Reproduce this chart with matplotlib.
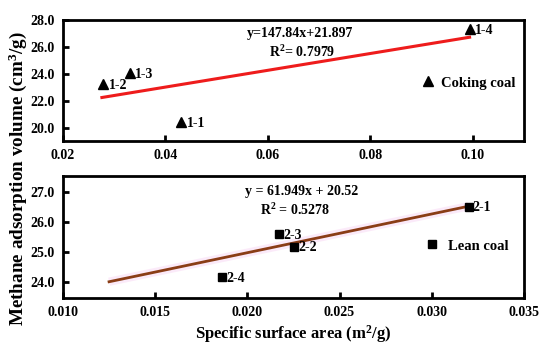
import matplotlib.pyplot as plt

plt.rcParams['font.family'] = 'Liberation Serif'
plt.rcParams['font.weight'] = 'bold'
plt.rcParams['mathtext.fontset'] = 'custom'
plt.rcParams['mathtext.rm'] = 'Liberation Serif:bold'
plt.rcParams['mathtext.it'] = 'Liberation Serif:bold'
plt.rcParams['mathtext.bf'] = 'Liberation Serif:bold'

# coking coal (top panel)
coking_x = [0.0431, 0.0278, 0.0330, 0.0994]
coking_y = [20.4, 23.25, 24.05, 27.3]
coking_names = ['1-1', '1-2', '1-3', '1-4']
coking_fit_x = [0.0276, 0.0994]
coking_fit_y = [22.24, 26.72]
coking_eq = 'y=147.84x+21.897'
coking_r2 = 'R$^{2}$= 0.7979'

# lean coal (bottom panel)
lean_x = [0.0320, 0.02253, 0.02171, 0.01862]
lean_y = [26.51, 25.18, 25.60, 24.16]
lean_names = ['2-1', '2-2', '2-3', '2-4']
lean_fit_x = [0.0125, 0.0320]
lean_fit_y = [24.01, 26.52]
lean_eq = 'y = 61.949x + 20.52'
lean_r2 = 'R$^{2}$ = 0.5278'

fig = plt.figure(figsize=(5.5, 3.51), dpi=100)
ax1 = fig.add_axes([0.1145, 0.598, 0.838, 0.345])
ax2 = fig.add_axes([0.1145, 0.151, 0.838, 0.348])


def style_axes(ax):
    for side in ['left', 'right', 'top', 'bottom']:
        ax.spines[side].set_linewidth(2)
    ax.tick_params(direction='in', width=2, length=4, labelsize=10,
                   top=False, right=False, pad=6)
    for lab in ax.get_xticklabels() + ax.get_yticklabels():
        lab.set_fontweight('bold')


# top panel
ax1.plot(coking_fit_x, coking_fit_y, color='#ee1c1c', lw=2.2)
ax1.plot(coking_x, coking_y, '^', color='black', ms=7.5, label='Coking coal')
for x, y, n in zip(coking_x, coking_y, coking_names):
    ax1.annotate(n, (x, y), xytext=(4, -1), textcoords='offset points',
                 va='center', ha='left', fontsize=10, fontweight='bold')
ax1.text(0.514, 0.89, coking_eq, transform=ax1.transAxes, ha='center',
         va='center', fontsize=10, fontweight='bold')
ax1.text(0.518, 0.735, coking_r2, transform=ax1.transAxes, ha='center',
         va='center', fontsize=10, fontweight='bold')
ax1.set_xlim(0.02, 0.11)
ax1.set_ylim(19.0, 28.0)
ax1.set_xticks([0.02, 0.04, 0.06, 0.08, 0.10])
ax1.set_xticklabels(['0.02', '0.04', '0.06', '0.08', '0.10'])
ax1.set_yticks([20.0, 22.0, 24.0, 26.0, 28.0])
ax1.set_yticklabels(['20.0', '22.0', '24.0', '26.0', '28.0'])
ax1.legend(loc='center left', bbox_to_anchor=(0.76, 0.48), frameon=False,
           handlelength=1.0, handletextpad=0.4, borderpad=0,
           prop={'weight': 'bold', 'size': 10.5})
style_axes(ax1)

# bottom panel
ax2.plot(lean_fit_x, lean_fit_y, color='#f7d2f2', lw=6, alpha=0.45,
         solid_capstyle='butt')
ax2.plot(lean_fit_x, lean_fit_y, color='#8a3d16', lw=2)
ax2.plot(lean_x, lean_y, 's', color='black', ms=5.5, label='Lean coal')
for x, y, n in zip(lean_x, lean_y, lean_names):
    ax2.annotate(n, (x, y), xytext=(3, -1), textcoords='offset points',
                 va='center', ha='left', fontsize=10, fontweight='bold')
ax2.text(0.517, 0.869, lean_eq, transform=ax2.transAxes, ha='center',
         va='center', fontsize=10, fontweight='bold')
ax2.text(0.503, 0.721, lean_r2, transform=ax2.transAxes, ha='center',
         va='center', fontsize=10, fontweight='bold')
ax2.set_xlim(0.010, 0.035)
ax2.set_ylim(23.47, 27.53)
ax2.set_xticks([0.010, 0.015, 0.020, 0.025, 0.030, 0.035])
ax2.set_xticklabels(['0.010', '0.015', '0.020', '0.025', '0.030', '0.035'])
ax2.set_yticks([24.0, 25.0, 26.0, 27.0])
ax2.set_yticklabels(['24.0', '25.0', '26.0', '27.0'])
ax2.legend(loc='center left', bbox_to_anchor=(0.77, 0.426), frameon=False,
           handlelength=1.0, handletextpad=0.6, borderpad=0,
           prop={'weight': 'bold', 'size': 10.5})
style_axes(ax2)

ax2.set_xlabel('Specific surface area (m$^{2}$/g)', fontsize=12,
               fontweight='bold', labelpad=3)
fig.text(0.032, 0.49, 'Methane adsorption volume (cm$^{3}$/g)',
         rotation=90, ha='center', va='center', fontsize=13.8,
         fontweight='bold')

fig.savefig('out.png', dpi=100)
